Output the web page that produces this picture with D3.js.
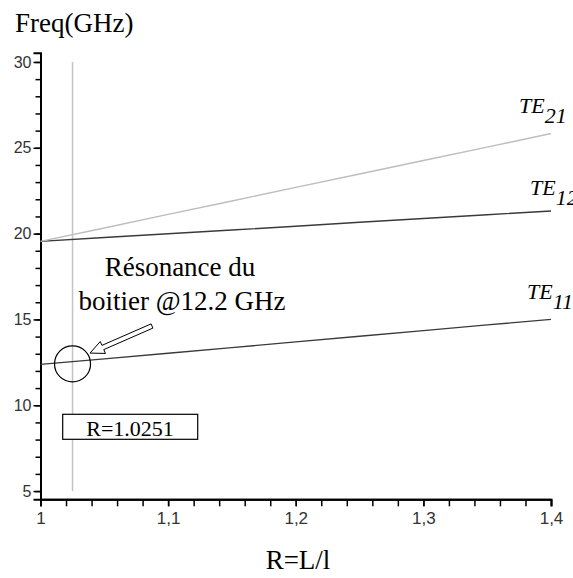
<!DOCTYPE html>
<html><head><meta charset="utf-8">
<script src="https://cdn.jsdelivr.net/npm/d3@7/dist/d3.min.js"></script>
<style>body{margin:0;background:#fff}svg{display:block}</style>
</head><body>
<svg id="c" width="573" height="578"></svg>
<script>
// ---- data ----
const ratios = [1, 1.05, 1.1, 1.15, 1.2, 1.25, 1.3, 1.35, 1.4];
const te11 = [12.38, 12.70, 13.03, 13.36, 13.69, 14.02, 14.35, 14.68, 15.00];
const te12 = [19.55, 19.77, 19.99, 20.21, 20.43, 20.66, 20.88, 21.10, 21.32];
const te21 = [19.55, 20.33, 21.12, 21.90, 22.69, 23.47, 24.26, 25.04, 25.83];
const seriesNames = ["11", "12", "21"];
const xMajorTicks = [1, 1.1, 1.2, 1.3, 1.4];
const xTickLabels = ["1", "1,1", "1,2", "1,3", "1,4"];
const yMajorTicks = [5, 10, 15, 20, 25, 30];
const markerR = 1.0251;
const resonanceF = 12.41;
const markerLabel = "R=1.0251";

const svg = d3.select("#c");
const serif = "'Liberation Serif','Times New Roman',serif";
const sans = "'Liberation Sans',Arial,sans-serif";

const x = d3.scaleLinear().domain([1, 1.4]).range([40.5, 551]);
const y = d3.scaleLinear().domain([4.52, 30.54]).range([499.3, 52.7]);

// axes
const yMinor = d3.axisLeft(y).tickValues(d3.range(5, 31, 1)).tickSize(5).tickSizeOuter(0).tickFormat("");
const yMajor = d3.axisLeft(y).tickValues(yMajorTicks).tickSize(7).tickSizeOuter(7).tickFormat(d3.format("d"));
const xMinor = d3.axisBottom(x).tickValues(d3.range(0, 21).map(i => 1 + i * 0.02)).tickSize(7).tickSizeOuter(0).tickFormat("");
const xMajor = d3.axisBottom(x).tickValues(xMajorTicks).tickSize(7).tickSizeOuter(7)
  .tickFormat((d, i) => xTickLabels[i]);

function styleAxis(g) {
  g.selectAll("path.domain").attr("stroke", "#000").attr("stroke-width", 2);
  g.selectAll(".tick line").attr("stroke", "#000").attr("stroke-width", 1.5);
  g.selectAll(".tick text").attr("font-family", sans).attr("font-size", 16).attr("fill", "#333");
}
const yx = x(1);
svg.append("g").attr("transform", `translate(${yx},0)`).call(yMinor).call(styleAxis);
svg.append("g").attr("transform", `translate(${yx},0)`).call(yMajor).call(styleAxis)
  .selectAll(".tick text").attr("x", -9);
const xy = y(4.52);
svg.append("g").attr("transform", `translate(0,${xy})`).call(xMinor).call(styleAxis);
svg.append("g").attr("transform", `translate(0,${xy})`).call(xMajor).call(styleAxis)
  .selectAll(".tick text").attr("y", 13).attr("font-size", 17);

// vertical marker line
svg.append("line")
  .attr("x1", x(markerR)).attr("x2", x(markerR))
  .attr("y1", y(30)).attr("y2", y(5))
  .attr("stroke", "#c4c4c4").attr("stroke-width", 1.5);

// series lines
const line = d3.line().x((d, i) => x(ratios[i])).y(d => y(d));
const series = [
  {vals: te11, color: "#3a3a3a"},
  {vals: te12, color: "#3a3a3a"},
  {vals: te21, color: "#bdbdbd"}
];
series.forEach(s => {
  svg.append("path").attr("d", line(s.vals)).attr("fill", "none")
    .attr("stroke", s.color).attr("stroke-width", 1.4);
});

// series labels TE_xx
const labelPos = [
  {x: 527, y: 299},
  {x: 530, y: 195},
  {x: 519, y: 113}
];
seriesNames.forEach((n, i) => {
  const t = svg.append("text").attr("x", labelPos[i].x).attr("y", labelPos[i].y)
    .attr("font-family", serif).attr("font-style", "italic").attr("font-size", 22).attr("fill", "#000");
  t.append("tspan").text("TE");
  t.append("tspan").attr("dy", 10).text(n);
});

// axis titles
svg.append("text").attr("x", 15).attr("y", 32).attr("font-family", serif).attr("font-size", 27)
  .text("Freq(GHz)");
svg.append("text").attr("x", 298).attr("y", 569).attr("text-anchor", "middle")
  .attr("font-family", serif).attr("font-size", 27).text("R=L/l");

// annotation
svg.append("text").attr("x", 180).attr("y", 276).attr("text-anchor", "middle")
  .attr("font-family", serif).attr("font-size", 27).text("Résonance du");
svg.append("text").attr("x", 182).attr("y", 310).attr("text-anchor", "middle")
  .attr("font-family", serif).attr("font-size", 27).text("boitier @12.2 GHz");

const cx = x(markerR), cy = y(resonanceF);
svg.append("circle").attr("cx", cx).attr("cy", cy).attr("r", 18)
  .attr("fill", "none").attr("stroke", "#000").attr("stroke-width", 1.2);

// hollow arrow
const tip = [cx + 17.5, cy - 10.8], tail = [152, 326];
const dx = tip[0] - tail[0], dy = tip[1] - tail[1], L = Math.hypot(dx, dy);
const u = [dx / L, dy / L], nrm = [-u[1], u[0]];
const hl = 14, hw = 6.5, sw = 2.3;
const hb = [tip[0] - u[0] * hl, tip[1] - u[1] * hl];
const P = (p, k) => [p[0] + nrm[0] * k, p[1] + nrm[1] * k];
const pts = [P(tail, sw), P(hb, sw), P(hb, hw), tip, P(hb, -hw), P(hb, -sw), P(tail, -sw)];
svg.append("polygon").attr("points", pts.map(p => p.join(",")).join(" "))
  .attr("fill", "#fff").attr("stroke", "#000").attr("stroke-width", 1);

// marker box
svg.append("rect").attr("x", 62.7).attr("y", 414.3).attr("width", 135).attr("height", 25)
  .attr("fill", "#fff").attr("stroke", "#000").attr("stroke-width", 1.2);
svg.append("text").attr("x", 130).attr("y", 436).attr("text-anchor", "middle")
  .attr("font-family", serif).attr("font-size", 22).text(markerLabel);
</script>
</body></html>
